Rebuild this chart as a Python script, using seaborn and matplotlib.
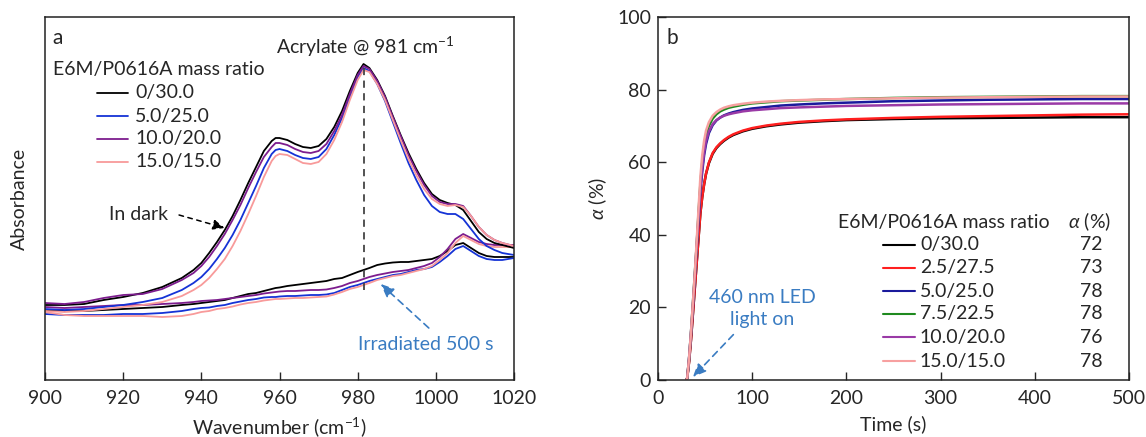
import numpy as np
import pandas as pd
import matplotlib
matplotlib.use("Agg")
import matplotlib.pyplot as plt
import seaborn as sns

# ---------------- Panel a data (FTIR, arbitrary absorbance units) ----------------
wavenumber = [900, 905, 910, 915, 920, 925, 930, 935, 938, 940, 942, 944, 946, 948, 950, 952, 954, 956,
              958, 959, 960, 962, 964, 966, 968, 970, 972, 974, 976, 978, 980, 981.5, 983, 985, 987,
              989, 991, 993, 995, 997, 999, 1001, 1003, 1005, 1007, 1009, 1011, 1013, 1015, 1017, 1020]

dark_0_30 = [0.75, 0.75, 0.76, 0.80, 0.83, 0.87, 0.93, 1.02, 1.10, 1.17, 1.27, 1.38, 1.50, 1.64, 1.80, 1.97,
             2.13, 2.29, 2.39, 2.42, 2.42, 2.40, 2.36, 2.33, 2.32, 2.34, 2.41, 2.53, 2.69, 2.89, 3.07, 3.16,
             3.12, 3.00, 2.84, 2.64, 2.45, 2.27, 2.11, 1.97, 1.86, 1.80, 1.77, 1.75, 1.70, 1.59, 1.48, 1.41,
             1.37, 1.35, 1.32]
dark_5_25 = [0.71, 0.70, 0.71, 0.73, 0.75, 0.78, 0.82, 0.90, 0.97, 1.03, 1.11, 1.21, 1.32, 1.45, 1.60, 1.77,
             1.94, 2.12, 2.26, 2.30, 2.31, 2.29, 2.25, 2.22, 2.21, 2.23, 2.31, 2.45, 2.62, 2.83, 3.03, 3.12,
             3.09, 2.96, 2.79, 2.58, 2.37, 2.17, 2.00, 1.85, 1.74, 1.68, 1.66, 1.66, 1.61, 1.51, 1.41, 1.34,
             1.30, 1.27, 1.25]
dark_10_20 = [0.77, 0.76, 0.78, 0.82, 0.85, 0.86, 0.91, 1.00, 1.07, 1.14, 1.23, 1.34, 1.46, 1.60, 1.75, 1.92,
              2.08, 2.23, 2.33, 2.37, 2.37, 2.35, 2.31, 2.28, 2.27, 2.29, 2.36, 2.49, 2.65, 2.86, 3.05, 3.14,
              3.11, 2.99, 2.83, 2.63, 2.44, 2.25, 2.09, 1.95, 1.84, 1.78, 1.76, 1.76, 1.74, 1.64, 1.53, 1.45,
              1.40, 1.37, 1.34]
dark_15_15 = [0.69, 0.68, 0.69, 0.71, 0.73, 0.75, 0.78, 0.84, 0.90, 0.95, 1.02, 1.11, 1.21, 1.34, 1.49, 1.66,
              1.84, 2.03, 2.19, 2.24, 2.26, 2.25, 2.21, 2.17, 2.16, 2.18, 2.26, 2.40, 2.58, 2.80, 3.00, 3.10,
              3.08, 2.96, 2.80, 2.60, 2.40, 2.21, 2.05, 1.91, 1.81, 1.76, 1.74, 1.75, 1.73, 1.64, 1.53, 1.45,
              1.40, 1.37, 1.34]

irr_0_30 = [0.70, 0.69, 0.69, 0.70, 0.71, 0.72, 0.73, 0.75, 0.76, 0.77, 0.78, 0.79, 0.80, 0.82, 0.84, 0.86,
            0.87, 0.89, 0.91, 0.92, 0.925, 0.94, 0.95, 0.96, 0.97, 0.98, 0.99, 1.01, 1.02, 1.05, 1.08, 1.10,
            1.12, 1.15, 1.165, 1.175, 1.18, 1.18, 1.19, 1.20, 1.21, 1.24, 1.29, 1.35, 1.37, 1.32, 1.27, 1.24,
            1.23, 1.23, 1.23]
irr_5_25 = [0.66, 0.65, 0.65, 0.65, 0.66, 0.66, 0.67, 0.69, 0.71, 0.72, 0.725, 0.74, 0.75, 0.77, 0.785, 0.80,
            0.81, 0.825, 0.83, 0.83, 0.835, 0.84, 0.84, 0.845, 0.85, 0.85, 0.855, 0.87, 0.90, 0.93, 0.95, 0.97,
            0.99, 1.01, 1.03, 1.05, 1.06, 1.08, 1.10, 1.11, 1.13, 1.18, 1.24, 1.31, 1.34, 1.29, 1.24, 1.21,
            1.20, 1.20, 1.22]
irr_10_20 = [0.73, 0.72, 0.73, 0.74, 0.75, 0.75, 0.76, 0.77, 0.78, 0.79, 0.795, 0.80, 0.81, 0.82, 0.83, 0.84,
             0.85, 0.865, 0.875, 0.88, 0.885, 0.89, 0.89, 0.895, 0.90, 0.90, 0.905, 0.92, 0.94, 0.97, 0.99, 1.01,
             1.03, 1.05, 1.065, 1.08, 1.09, 1.10, 1.12, 1.14, 1.17, 1.23, 1.31, 1.41, 1.46, 1.42, 1.38, 1.36,
             1.35, 1.35, 1.35]
irr_15_15 = [0.68, 0.65, 0.64, 0.64, 0.64, 0.64, 0.63, 0.64, 0.66, 0.68, 0.69, 0.71, 0.72, 0.735, 0.755, 0.77,
             0.78, 0.795, 0.805, 0.81, 0.81, 0.815, 0.82, 0.82, 0.825, 0.83, 0.835, 0.855, 0.88, 0.91, 0.93, 0.95,
             0.97, 1.00, 1.02, 1.04, 1.05, 1.07, 1.09, 1.11, 1.14, 1.20, 1.27, 1.37, 1.44, 1.40, 1.36, 1.34,
             1.33, 1.33, 1.33]

ratios_a = ["0/30.0", "5.0/25.0", "10.0/20.0", "15.0/15.0"]
colors_a = ["#000000", "#1533d6", "#7d1d8e", "#f89a9a"]

acrylate_peak = 981.5
dashline_range = [0.90, 3.13]

# ---------------- Panel b data (conversion kinetics) ----------------
time_s = [30, 31, 33, 35, 37, 39, 41, 43, 45, 47, 49, 51, 54, 58, 62, 66, 70, 75, 80, 90, 100,
          115, 130, 150, 175, 200, 250, 300, 350, 400, 450, 500]

conv_0_30 = [0, 0.5, 5, 11, 18, 25, 32, 39, 46, 50.5, 54, 56.8, 59.7, 62.3, 63.9, 65, 65.9, 66.8, 67.5,
             68.5, 69.2, 69.9, 70.4, 70.9, 71.3, 71.6, 71.9, 72.1, 72.2, 72.3, 72.4, 72.4]
conv_2_5 = [0, 0.5, 5, 11, 18, 25, 32, 39, 46, 50.5, 54, 56.9, 59.9, 62.5, 64.1, 65.2, 66.1, 67.0, 67.7,
            68.7, 69.4, 70.1, 70.6, 71.1, 71.5, 71.8, 72.2, 72.5, 72.7, 72.9, 73.1, 73.2]
conv_5_0 = [0, 0.5, 6, 12.5, 20, 28, 36, 44, 52, 57.5, 62, 65, 68, 70.2, 71.5, 72.3, 72.9, 73.4, 73.8,
            74.4, 74.8, 75.2, 75.6, 75.9, 76.2, 76.4, 76.8, 77.0, 77.2, 77.3, 77.4, 77.4]
conv_7_5 = [0, 0.5, 6, 13, 21, 29, 37, 46, 54, 60, 64.5, 67.3, 70, 72, 73.2, 74, 74.5, 75, 75.3,
            75.8, 76.2, 76.5, 76.8, 77.0, 77.2, 77.4, 77.7, 77.9, 78.0, 78.1, 78.2, 78.2]
conv_10_0 = [0, 0.5, 6, 13, 20.5, 28.5, 37, 45, 53, 58.5, 62.8, 65.8, 68.5, 70.5, 71.6, 72.3, 72.8, 73.2, 73.5,
             74.0, 74.3, 74.6, 74.9, 75.1, 75.3, 75.5, 75.7, 75.9, 76.0, 76.1, 76.2, 76.2]
conv_15_0 = [0, 0.5, 6, 13, 21, 29, 38, 47, 56, 62, 66, 68.7, 71, 72.8, 73.8, 74.5, 75, 75.4, 75.7,
             76.1, 76.4, 76.7, 76.9, 77.1, 77.3, 77.4, 77.6, 77.8, 77.9, 78.0, 78.1, 78.1]

ratios_b = ["0/30.0", "2.5/27.5", "5.0/25.0", "7.5/22.5", "10.0/20.0", "15.0/15.0"]
final_alpha = ["72", "73", "78", "78", "76", "78"]
colors_b = ["#000000", "#ff1f1f", "#1a1a9c", "#1f8a1f", "#9a3aa6", "#f7a0a0"]

ann_blue = "#3a7cc2"

# ---------------- Style ----------------
sns.set_style("ticks")
plt.rcParams['font.family'] = ['Lato', 'DejaVu Sans']
plt.rcParams['mathtext.fontset'] = 'custom'
plt.rcParams['mathtext.rm'] = 'Lato'
plt.rcParams['mathtext.it'] = 'Lato:italic'
plt.rcParams['axes.edgecolor'] = '#222222'
plt.rcParams['axes.linewidth'] = 1.1

FS = 14

fig = plt.figure(figsize=(11.46, 4.37), dpi=100)
ax_a = fig.add_axes([45 / 1146, 57 / 437, 469 / 1146, 363 / 437])
ax_b = fig.add_axes([658 / 1146, 57 / 437, 471 / 1146, 363 / 437])

# ---------------- Panel a ----------------
dark = [dark_0_30, dark_5_25, dark_10_20, dark_15_15]
irr = [irr_0_30, irr_5_25, irr_10_20, irr_15_15]
order_a = [0, 1, 2, 3]
for i in order_a:
    df = pd.DataFrame({"w": wavenumber, "A": irr[i]})
    sns.lineplot(data=df, x="w", y="A", ax=ax_a, color=colors_a[i], linewidth=1.3)
for i in order_a:
    df = pd.DataFrame({"w": wavenumber, "A": dark[i]})
    sns.lineplot(data=df, x="w", y="A", ax=ax_a, color=colors_a[i], linewidth=1.3)

ax_a.plot([acrylate_peak, acrylate_peak], dashline_range, color="#444444",
          linestyle=(0, (4, 3)), linewidth=1.3)

ax_a.set_xlim(900, 1020)
ax_a.set_ylim(0, 3.63)
ax_a.set_xticks([900, 920, 940, 960, 980, 1000, 1020])
ax_a.set_yticks([])
ax_a.tick_params(axis='x', direction='in', length=6, width=1, labelsize=FS, pad=7)
ax_a.set_xlabel("Wavenumber (cm$^{-1}$)", fontsize=FS, labelpad=6)
ax_a.set_ylabel("Absorbance", fontsize=FS, labelpad=12)

ax_a.text(0.016, 0.942, "a", transform=ax_a.transAxes, fontsize=FS + 1, va='center', ha='left')
ax_a.text(0.684, 0.917, "Acrylate @ 981 cm$^{-1}$", transform=ax_a.transAxes, fontsize=FS,
          va='center', ha='center')

# legend a
ax_a.text(0.017, 0.854, "E6M/P0616A mass ratio", transform=ax_a.transAxes, fontsize=FS,
          va='center', ha='left')
rows_a = [0.791, 0.727, 0.664, 0.601]
for i, lab in enumerate(ratios_a):
    ax_a.plot([0.111, 0.177], [rows_a[i], rows_a[i]], transform=ax_a.transAxes,
              color=colors_a[i], linewidth=1.3)
    ax_a.text(0.192, rows_a[i], lab, transform=ax_a.transAxes, fontsize=FS, va='center', ha='left')

# annotations a
ax_a.text(0.137, 0.455, "In dark", transform=ax_a.transAxes, fontsize=FS, va='center', ha='left')
ax_a.annotate("", xy=(946.0, 1.52), xytext=(934.3, 1.65),
              arrowprops=dict(arrowstyle='-|>,head_length=0.7,head_width=0.3', color='black',
                              linestyle=(0, (3, 3)), linewidth=1.1, shrinkA=0, shrinkB=0))
ax_a.text(0.667, 0.099, "Irradiated 500 s", transform=ax_a.transAxes, fontsize=FS,
          va='center', ha='left', color=ann_blue)
ax_a.annotate("", xy=(985.9, 0.96), xytext=(998.2, 0.52),
              arrowprops=dict(arrowstyle='-|>,head_length=0.8,head_width=0.35', color=ann_blue,
                              linestyle=(0, (4, 3)), linewidth=1.2, shrinkA=0, shrinkB=0))

# ---------------- Panel b ----------------
convs = [conv_0_30, conv_2_5, conv_5_0, conv_7_5, conv_10_0, conv_15_0]
for i, c in enumerate(convs):
    df = pd.DataFrame({"t": time_s, "a": c})
    sns.lineplot(data=df, x="t", y="a", ax=ax_b, color=colors_b[i], linewidth=1.8)

ax_b.set_xlim(0, 500)
ax_b.set_ylim(0, 100)
ax_b.set_xticks([0, 100, 200, 300, 400, 500])
ax_b.set_yticks([0, 20, 40, 60, 80, 100])
ax_b.tick_params(axis='both', direction='in', length=6, width=1, labelsize=FS)
ax_b.tick_params(axis='x', pad=7)
ax_b.tick_params(axis='y', pad=5)
ax_b.set_xlabel("Time (s)", fontsize=FS, labelpad=6)
ax_b.set_ylabel("$\\mathit{\\alpha}$ (%)", fontsize=FS, labelpad=6)

ax_b.text(0.019, 0.942, "b", transform=ax_b.transAxes, fontsize=FS + 1, va='center', ha='left')

# legend b
ax_b.text(0.382, 0.435, "E6M/P0616A mass ratio", transform=ax_b.transAxes, fontsize=FS,
          va='center', ha='left')
ax_b.text(0.870, 0.435, "$\\mathit{\\alpha}$ (%)", transform=ax_b.transAxes, fontsize=FS,
          va='center', ha='left')
rows_b = [0.372, 0.309, 0.245, 0.182, 0.118, 0.052]
for i, lab in enumerate(ratios_b):
    ax_b.plot([0.478, 0.546], [rows_b[i], rows_b[i]], transform=ax_b.transAxes,
              color=colors_b[i], linewidth=1.5)
    ax_b.text(0.556, rows_b[i], lab, transform=ax_b.transAxes, fontsize=FS, va='center', ha='left')
    ax_b.text(0.943, rows_b[i], final_alpha[i], transform=ax_b.transAxes, fontsize=FS,
              va='center', ha='right')

ax_b.text(0.221, 0.196, "460 nm LED\nlight on", transform=ax_b.transAxes, fontsize=FS,
          va='center', ha='center', color=ann_blue, linespacing=1.35)
ax_b.annotate("", xy=(37, 0.8), xytext=(80, 12.5),
              arrowprops=dict(arrowstyle='-|>,head_length=0.8,head_width=0.35', color=ann_blue,
                              linestyle=(0, (4, 3)), linewidth=1.2, shrinkA=0, shrinkB=0))

fig.savefig("out.png", dpi=100)
